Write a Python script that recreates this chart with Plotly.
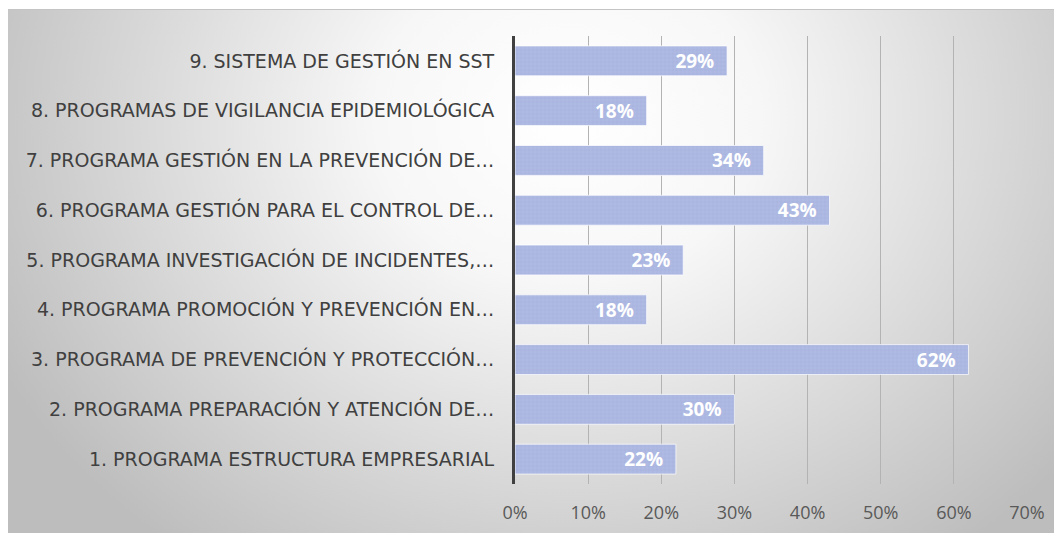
import plotly.graph_objects as go
import urllib.parse

categories = [
    "1. PROGRAMA ESTRUCTURA EMPRESARIAL",
    "2. PROGRAMA PREPARACIÓN Y ATENCIÓN DE…",
    "3. PROGRAMA DE PREVENCIÓN Y PROTECCIÓN…",
    "4. PROGRAMA PROMOCIÓN Y PREVENCIÓN EN…",
    "5. PROGRAMA INVESTIGACIÓN DE INCIDENTES,…",
    "6. PROGRAMA GESTIÓN PARA EL CONTROL DE…",
    "7. PROGRAMA GESTIÓN EN LA PREVENCIÓN DE…",
    "8. PROGRAMAS DE VIGILANCIA EPIDEMIOLÓGICA",
    "9. SISTEMA DE GESTIÓN EN SST",
]
values = [0.22, 0.30, 0.62, 0.18, 0.23, 0.43, 0.34, 0.18, 0.29]
tick_vals = [0, 0.1, 0.2, 0.3, 0.4, 0.5, 0.6, 0.7]
tick_text = ["0%", "10%", "20%", "30%", "40%", "50%", "60%", "70%"]

W, H = 1062, 533
L, R, T, B = 507, 43, 28, 57
pw, ph = W - L - R, H - T - B

svg = (
    f"<svg xmlns='http://www.w3.org/2000/svg' width='{W}' height='{H}' viewBox='0 0 {W} {H}' preserveAspectRatio='none'>"
    "<defs><radialGradient id='g' gradientUnits='userSpaceOnUse' cx='560' cy='110' r='640' "
    "gradientTransform='translate(560 110) scale(1 0.85) translate(-560 -110)'>"
    "<stop offset='0' stop-color='#ffffff'/><stop offset='0.3' stop-color='#f7f7f7'/>"
    "<stop offset='1' stop-color='#bdbdbd'/></radialGradient></defs>"
    f"<rect x='0' y='0' width='{W}' height='{H}' fill='#ffffff'/>"
    f"<rect x='0' y='1' width='{W}' height='{H}' fill='url(#g)'/>"
    f"<line x1='0' y1='1.5' x2='{W}' y2='1.5' stroke='#c4c4c4' stroke-width='1'/>"
    "</svg>"
)
src = "data:image/svg+xml;charset=utf-8," + urllib.parse.quote(svg)

fig = go.Figure()
fig.add_trace(go.Bar(
    x=values, y=categories, orientation="h",
    marker=dict(color="#aab5e0", line=dict(color="rgba(255,255,255,0.7)", width=1),
                pattern=dict(shape="+", size=4, solidity=0.2, fgcolor="#9ea9d8", bgcolor="#afbae3")),
    texttemplate="%{x:.0%}\u00a0\u00a0",
    textposition="inside", insidetextanchor="end", constraintext="none", textangle=0,
    textfont=dict(color="white", size=19, family="Open Sans", weight="bold"),
    cliponaxis=False,
))

fig.update_layout(
    width=W, height=H,
    margin=dict(l=L, r=R, t=T, b=B),
    paper_bgcolor="rgba(0,0,0,0)", plot_bgcolor="rgba(0,0,0,0)",
    bargap=0.4, showlegend=False,
    images=[dict(source=src, xref="paper", yref="paper",
                 x=-L / pw, y=1 + T / ph, sizex=W / pw, sizey=H / ph,
                 xanchor="left", yanchor="top", sizing="stretch", layer="below")],
    xaxis=dict(range=[0, 0.7], tickvals=tick_vals, ticktext=tick_text,
               showgrid=True, gridcolor="#b3b3b3", gridwidth=1, zeroline=False,
               showline=False, ticks="", ticklabelstandoff=16,
               tickfont=dict(family="Open Sans", size=18, color="#595959")),
    yaxis=dict(showline=True, linecolor="#404040", linewidth=3, ticks="",
               ticklabelstandoff=14, showgrid=False,
               tickfont=dict(family="DejaVu Sans", size=19, color="#404040")),
)
fig.write_html("out.html")
